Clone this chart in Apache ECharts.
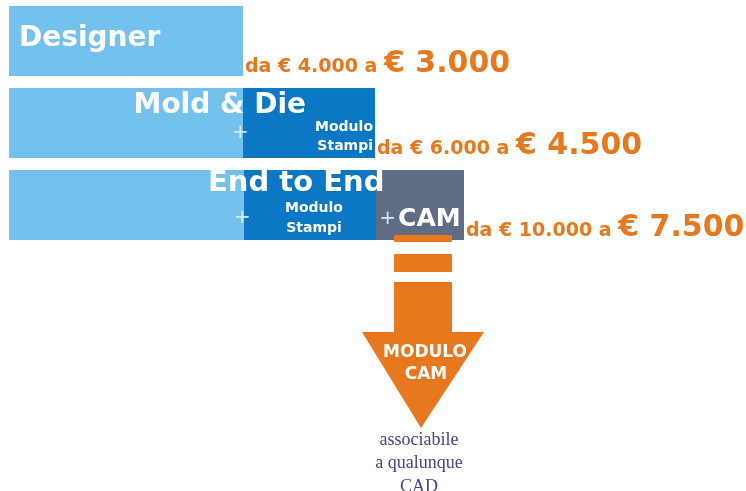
<!DOCTYPE html>
<html>
<head>
<meta charset="utf-8">
<script src="https://cdn.jsdelivr.net/npm/echarts@6/dist/echarts.min.js"></script>
<style>html,body{margin:0;padding:0;background:#fff}#c{width:746px;height:491px}</style>
</head>
<body>
<div id="c"></div>
<script>
const categories = ['Designer', 'Mold & Die', 'End to End'];
const baseValues = [234, 234, 235];
const stampiValues = [0, 132, 132];
const camValues = [0, 0, 88];
const priceFrom = ['4.000', '6.000', '10.000'];
const priceTo = ['3.000', '4.500', '7.500'];

const ORANGE = '#E8781E';
const FONT = '"DejaVu Sans", Verdana, sans-serif';
const SERIF = '"Liberation Serif", "DejaVu Serif", serif';

const chart = echarts.init(document.getElementById('c'), null, {renderer: 'canvas'});

const stampiData = stampiValues.map((v, i) => {
  if (i === 1) {
    return {value: v, label: {show: true, position: 'insideBottomRight', distance: 2,
      formatter: 'Modulo\nStampi', align: 'right', color: '#fff', fontWeight: 'bold', fontSize: 14,
      lineHeight: 19, fontFamily: FONT}};
  }
  if (i === 2) {
    return {value: v, label: {show: true, position: 'inside', offset: [4, 13],
      formatter: 'Modulo\nStampi', align: 'center', color: '#fff', fontWeight: 'bold', fontSize: 14,
      lineHeight: 20, fontFamily: FONT}};
  }
  return v;
});

const camData = camValues.map((v, i) => {
  if (i === 2) {
    return {value: v, label: {show: true, position: 'inside', offset: [0, 14],
      formatter: '{p|+}{c|CAM}', rich: {
        p: {color: '#dde6f0', fontSize: 20, fontFamily: FONT, padding: [0, 2, 0, 0]},
        c: {color: '#fff', fontSize: 25, fontWeight: 'bold', fontFamily: FONT}
      }}};
  }
  return v;
});

const priceData = categories.map(() => 0);

chart.setOption({
  animation: false,
  grid: {left: 9, right: 0, top: 0, height: 246},
  xAxis: {type: 'value', min: 0, max: 737, show: false},
  yAxis: {type: 'category', data: categories, inverse: true, show: false},
  series: [
    {name: 'Base', type: 'bar', stack: 'tot', data: baseValues, barWidth: 70,
      itemStyle: {color: '#74C1EE'}},
    {name: 'Modulo Stampi', type: 'bar', stack: 'tot', data: stampiData, barWidth: 70,
      itemStyle: {color: '#0B77C5'}},
    {name: 'CAM', type: 'bar', stack: 'tot', data: camData, barWidth: 70,
      itemStyle: {color: '#5E6C84'}},
    {name: 'Prezzo', type: 'bar', stack: 'tot', data: priceData, barWidth: 70,
      itemStyle: {color: 'rgba(0,0,0,0)'},
      label: {show: true, position: 'right', distance: 2, offset: [0, 23],
        formatter: p => '{a|da € ' + priceFrom[p.dataIndex] + ' a }{b|€ ' + priceTo[p.dataIndex] + '}',
        rich: {
          a: {color: ORANGE, fontSize: 19, fontWeight: 'bold', fontFamily: FONT, verticalAlign: 'bottom', padding: [0, 0, 2, 0]},
          b: {color: ORANGE, fontSize: 30, fontWeight: 'bold', fontFamily: FONT, verticalAlign: 'bottom'}
        }}}
  ],
  graphic: [
    {type: 'text', z: 100, left: 19, top: 25, style: {text: 'Designer', fill: '#fff', font: 'bold 28px ' + FONT}},
    {type: 'text', z: 100, right: 746 - 306, top: 92, style: {text: 'Mold & Die', fill: '#fff', font: 'bold 28px ' + FONT}},
    {type: 'text', z: 100, left: 232, top: 123, style: {text: '+', fill: '#dde6f0', font: '20px ' + FONT}},
    {type: 'text', z: 100, left: 208, top: 169, style: {text: 'End to End', fill: '#fff', font: 'bold 29px ' + FONT}},
    {type: 'text', z: 100, left: 234, top: 208, style: {text: '+', fill: '#dde6f0', font: '20px ' + FONT}},
    // arrow
    {type: 'rect', z: 100, shape: {x: 394, y: 235, width: 58, height: 7}, style: {fill: ORANGE}},
    {type: 'rect', z: 100, shape: {x: 394, y: 254, width: 58, height: 18}, style: {fill: ORANGE}},
    {type: 'rect', z: 100, shape: {x: 394, y: 282, width: 58, height: 51}, style: {fill: ORANGE}},
    {type: 'polygon', z: 100, shape: {points: [[362, 332], [484, 332], [421, 428]]}, style: {fill: ORANGE}},
    {type: 'text', z: 101, x: 425, y: 353, style: {text: 'MODULO', fill: '#fff', font: 'bold 17px ' + FONT, textAlign: 'center', textVerticalAlign: 'middle'}},
    {type: 'text', z: 101, x: 426, y: 375, style: {text: 'CAM', fill: '#fff', font: 'bold 17px ' + FONT, textAlign: 'center', textVerticalAlign: 'middle'}},
    {type: 'text', z: 100, x: 419, y: 440, style: {text: 'associabile', fill: '#4A4383', font: '18px ' + SERIF, textAlign: 'center', textVerticalAlign: 'middle'}},
    {type: 'text', z: 100, x: 419, y: 463, style: {text: 'a qualunque', fill: '#4A4383', font: '18px ' + SERIF, textAlign: 'center', textVerticalAlign: 'middle'}},
    {type: 'text', z: 100, x: 419, y: 487, style: {text: 'CAD', fill: '#4A4383', font: '18px ' + SERIF, textAlign: 'center', textVerticalAlign: 'middle'}}
  ]
});
</script>
</body>
</html>
